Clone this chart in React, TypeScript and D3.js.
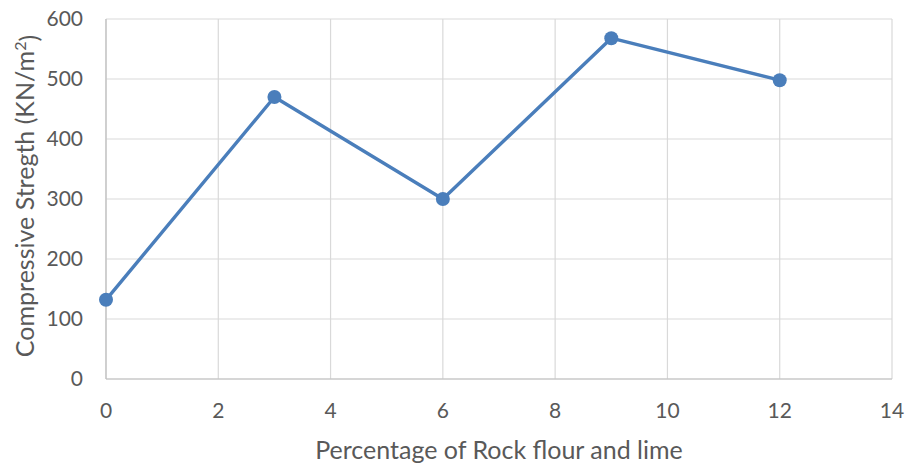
import React from "react";
import * as d3 from "d3";

const xValues = [0, 3, 6, 9, 12];
const yValues = [132, 470, 300, 568, 498];
const xTicks = [0, 2, 4, 6, 8, 10, 12, 14];
const yTicks = [0, 100, 200, 300, 400, 500, 600];

const W = 911;
const H = 468;
const M = { left: 106, right: 19, top: 19, bottom: 89 };

export default function App() {
  const x = d3.scaleLinear().domain([0, 14]).range([M.left, W - M.right]);
  const y = d3.scaleLinear().domain([0, 600]).range([H - M.bottom, M.top]);
  const pts = xValues.map((v, i) => [x(v), y(yValues[i])] as [number, number]);
  const line = d3.line()(pts) || "";
  const font = "Lato, 'Open Sans', sans-serif";
  const txt = "#595959";
  return (
    <svg width={W} height={H} style={{ position: "absolute", left: 0, top: 0 }}>
      <rect width={W} height={H} fill="#fff" />
      {yTicks.map((t) => (
        <line key={"gy" + t} x1={M.left} x2={W - M.right} y1={y(t)} y2={y(t)} stroke="#d9d9d9" strokeWidth={1.2} />
      ))}
      {xTicks.map((t) => (
        <line key={"gx" + t} x1={x(t)} x2={x(t)} y1={M.top} y2={H - M.bottom} stroke="#d9d9d9" strokeWidth={1.2} />
      ))}
      <line x1={M.left} x2={M.left} y1={M.top} y2={H - M.bottom} stroke="#bfbfbf" strokeWidth={1.2} />
      <line x1={M.left} x2={W - M.right} y1={H - M.bottom} y2={H - M.bottom} stroke="#bfbfbf" strokeWidth={1.2} />
      {yTicks.map((t) => (
        <text key={"ty" + t} x={83} y={y(t)} dy="0.35em" textAnchor="end" fontFamily={font} fontSize={21} fill={txt}>
          {t}
        </text>
      ))}
      {xTicks.map((t) => (
        <text key={"tx" + t} x={x(t)} y={411} dy="0.35em" textAnchor="middle" fontFamily={font} fontSize={21} fill={txt}>
          {t}
        </text>
      ))}
      <path d={line} fill="none" stroke="#4a7ebb" strokeWidth={3.4} strokeLinejoin="round" />
      {pts.map((p, i) => (
        <circle key={i} cx={p[0]} cy={p[1]} r={7} fill="#4a7ebb" />
      ))}
      <text x={499} y={450} dy="0.35em" textAnchor="middle" fontFamily={font} fontSize={25} fill={txt}>
        Percentage of Rock flour and lime
      </text>
      <text transform={`translate(25,196) rotate(-90)`} textAnchor="middle" dy="0.35em" fontFamily={font} fontSize={25} fill={txt}>
        Compressive Stregth (KN/m<tspan dy="-0.5em" fontSize={16}>2</tspan><tspan dy="0.5em">)</tspan>
      </text>
    </svg>
  );
}
